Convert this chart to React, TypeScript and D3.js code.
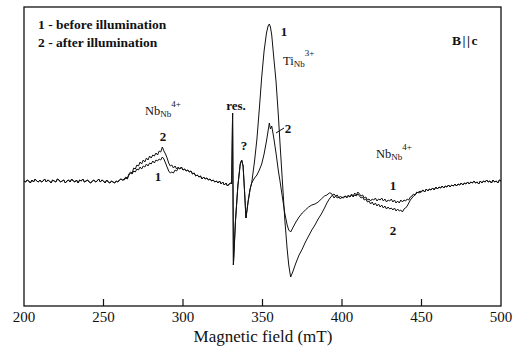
import React from "react";
import * as d3 from "d3";

// ---- Data (signal in arbitrary units, baseline = 0) ----
const xTicks = [200, 250, 300, 350, 400, 450, 500];
const innerTicks = [250, 300, 350, 400, 450];

// shared baseline 200..262 mT (1 mT step)
const baseLeftStart = 200;
const baseLeftSignal = [
  0, -1, 1, 0, -2, 1, -1, 2, 0, -1, 1, -1, 0, 2, -1, 1, 0, -2, 1, 0, -1, 2, 1, -1, 0, 1, -2, 0, 1, -1, 2,
  0, -1, 1, -2, 1, 0, 2, -1, 0, 1, -1, -2, 0, 1, -1, 0, 2, -1, 1, 0, -2, 1, -1, -2, 0, -1, -2, 0, -1, 1, 2, 1,
];

// Nb hump 263..297 mT, separate curves
const humpStart = 263;
const hump1 = [
  1, 3, 2, 6, 8, 7, 10, 9, 12, 11, 14, 12, 15, 14, 17, 15, 18, 17, 20, 18, 21, 20, 22, 21, 24, 22, 18, 14, 10,
  8, 9, 8, 11, 10, 13,
];
const hump2 = [
  2, 4, 3, 7, 9, 8, 13, 12, 16, 15, 19, 17, 21, 19, 23, 21, 25, 23, 26, 25, 28, 26, 30, 29, 34, 30, 27, 23, 18,
  15, 16, 13, 15, 12, 14,
];

// shared 298..330 mT
const midStart = 298;
const midSignal = [
  12, 14, 11, 12, 10, 11, 9, 10, 7, 8, 5, 6, 4, 5, 2, 4, 2, 3, 1, 2, 0, 1, -1, 0, -2, 0, -3, -1, -4, -2, -5,
  -3, -2,
];

// shared: res. line and "?" line
const resField = [330.6, 331.2, 331.7, 333, 334.5, 336, 336.9, 337.8, 338.7, 339.6, 341, 342.2, 343.2];
const resSignal = [-3, 68, -84, -40, -5, 17, 21, 15, -10, -37, -20, -8, -2];

// Ti(Nb)3+ line, separate curves
const tiField = [
  345, 346.5, 348, 349.5, 351, 352.5, 353.5, 354.3, 355, 355.8, 357, 358.5, 360, 361, 362.5, 364, 365.5, 366.5,
  367.7, 369, 371, 373, 375, 377, 379, 381, 383, 385, 387, 389, 390.5, 392,
];
const ti1 = [
  20, 42, 72, 104, 130, 148, 155, 157, 154, 146, 125, 100, 65, 38, 0, -38, -68, -84, -96, -91, -82, -74, -68,
  -61, -55, -49, -44, -38, -33, -27, -22, -18,
];
const ti2 = [
  3, 6, 11, 17, 27, 40, 50, 58, 52, 55, 44, 28, 10, 0, -16, -32, -44, -49, -51, -47, -41, -36, -32, -29, -26,
  -24, -23, -21, -18, -15, -14, -12,
];

// 393..450 mT, separate curves
const tailStart = 393;
const tail1 = [
  -16, -14, -17, -15, -17, -16, -18, -16, -17, -15,
  -16, -14, -16, -13, -15, -12, -14, -11, -13, -15,
  -14, -17, -16, -19, -18, -20, -18, -19, -17, -20,
  -18, -19, -17, -20, -18, -21, -19, -20, -18, -21,
  -19, -22, -20, -22, -19, -21, -19, -20, -18, -19,
  -16, -15, -13, -14, -11, -12, -10, -11,
];
const tail2 = [
  -12, -14, -13, -15, -14, -17, -15, -17, -16, -15,
  -17, -15, -16, -14, -16, -14, -15, -13, -15, -17,
  -16, -19, -18, -21, -20, -23, -21, -24, -22, -25,
  -23, -26, -24, -27, -25, -28, -26, -28, -27, -29,
  -27, -30, -28, -30, -29, -31, -28, -27, -25, -22,
  -19, -17, -15, -14, -12, -11, -12, -10,
];

// shared 451..500 mT
const endStart = 451;
const endSignal = [
  -9, -11, -8, -10, -8, -9, -7, -9, -6, -8, -6, -7, -5, -7, -5, -6, -4, -6, -4, -5, -3, -5, -3, -4, -2, -4, -2,
  -3, -1, -3, -1, -2, 0, -2, -1, -3, 0, -2, 0, -1, 1, -1, 0, -2, 1, -1, 0, -2, 1, 0,
];

type Pt = [number, number];
const seq = (start: number, vals: number[]): Pt[] => vals.map((v, i) => [start + i, v]);
const pairs = (f: number[], vals: number[]): Pt[] => vals.map((v, i) => [f[i], v]);

const curve1: Pt[] = [
  ...seq(baseLeftStart, baseLeftSignal),
  ...seq(humpStart, hump1),
  ...seq(midStart, midSignal),
  ...pairs(resField, resSignal),
  ...pairs(tiField, ti1),
  ...seq(tailStart, tail1),
  ...seq(endStart, endSignal),
];
const curve2: Pt[] = [
  ...seq(baseLeftStart, baseLeftSignal),
  ...seq(humpStart, hump2),
  ...seq(midStart, midSignal),
  ...pairs(resField, resSignal),
  ...pairs(tiField, ti2),
  ...seq(tailStart, tail2),
  ...seq(endStart, endSignal),
];

const W = 524;
const H = 350;
const x = d3.scaleLinear().domain([200, 500]).range([24, 501]);
const y = d3.scaleLinear().domain([-125, 174]).range([306, 7]);
const line = d3
  .line<Pt>()
  .x((d) => x(d[0]))
  .y((d) => y(d[1]));

const FONT = "'Liberation Serif', 'Times New Roman', serif";
const INK = "#111";

export default function App() {
  return (
    <svg
      width={W}
      height={H}
      style={{ position: "absolute", left: 0, top: 0, background: "#fff" }}
      fontFamily={FONT}
    >
      <rect x={24} y={7} width={477} height={299} fill="none" stroke={INK} strokeWidth={1.3} />
      {innerTicks.map((t) => (
        <line key={t} x1={x(t)} x2={x(t)} y1={306} y2={299} stroke={INK} strokeWidth={1.2} />
      ))}
      {xTicks.map((t) => (
        <text key={t} x={x(t)} y={322} textAnchor="middle" fontSize={15} fill={INK}>
          {t}
        </text>
      ))}
      <text x={263} y={342} textAnchor="middle" fontSize={17} fill={INK}>
        Magnetic field (mT)
      </text>

      <path d={line(curve2) || ""} fill="none" stroke={INK} strokeWidth={1} strokeLinejoin="round" />
      <path d={line(curve1) || ""} fill="none" stroke={INK} strokeWidth={1} strokeLinejoin="round" />

      {/* legend */}
      <text x={38} y={29} fontSize={13.5} fontWeight="bold" fill={INK}>
        1 - before illumination
      </text>
      <text x={38} y={47} fontSize={13.5} fontWeight="bold" fill={INK}>
        2 - after illumination
      </text>
      <text x={452} y={45} fontSize={13.5} fontWeight="bold" fill={INK} letterSpacing={1.5}>
        B||c
      </text>

      {/* left Nb label */}
      <text x={145} y={115} fontSize={12.5} fill={INK}>
        Nb
        <tspan fontSize={9} dy={2}>
          Nb
        </tspan>
        <tspan fontSize={9} dy={-10}>
          4+
        </tspan>
      </text>
      <text x={163} y={141} fontSize={13} fontWeight="bold" textAnchor="middle" fill={INK}>
        2
      </text>
      <text x={158} y={181} fontSize={13} fontWeight="bold" textAnchor="middle" fill={INK}>
        1
      </text>

      <text x={236} y={110} fontSize={13} fontWeight="bold" textAnchor="middle" fill={INK}>
        res.
      </text>
      <text x={244} y={150} fontSize={13} fontWeight="bold" textAnchor="middle" fill={INK}>
        ?
      </text>

      <text x={284} y={36} fontSize={13} fontWeight="bold" textAnchor="middle" fill={INK}>
        1
      </text>
      <text x={283} y={65} fontSize={12.5} fill={INK}>
        Ti
        <tspan fontSize={9} dy={2}>
          Nb
        </tspan>
        <tspan fontSize={9} dy={-11}>
          3+
        </tspan>
      </text>
      <line x1={276} y1={133} x2={284} y2={128} stroke={INK} strokeWidth={1} />
      <text x={288} y={133} fontSize={13} fontWeight="bold" textAnchor="middle" fill={INK}>
        2
      </text>

      {/* right Nb label */}
      <text x={376} y={158} fontSize={12.5} fill={INK}>
        Nb
        <tspan fontSize={9} dy={2}>
          Nb
        </tspan>
        <tspan fontSize={9} dy={-10}>
          4+
        </tspan>
      </text>
      <text x={393} y={190} fontSize={13} fontWeight="bold" textAnchor="middle" fill={INK}>
        1
      </text>
      <text x={393} y={235} fontSize={13} fontWeight="bold" textAnchor="middle" fill={INK}>
        2
      </text>
    </svg>
  );
}
